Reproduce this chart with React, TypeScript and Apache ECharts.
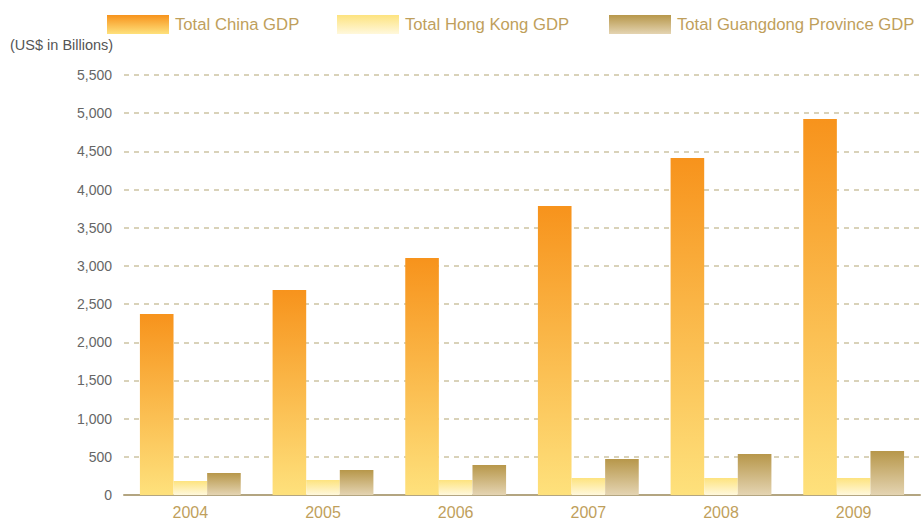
import React, { useEffect, useRef } from "react";
import * as echarts from "echarts";

const years = ["2004", "2005", "2006", "2007", "2008", "2009"];
const chinaGDP = [2370, 2685, 3104, 3785, 4413, 4924];
const hongKongGDP = [183, 196, 196, 223, 223, 223];
const guangdongGDP = [288, 327, 393, 471, 537, 576];
const yTicks = { min: 0, max: 5500, interval: 500 };

const grad = (top: string, bottom: string) =>
  new echarts.graphic.LinearGradient(0, 0, 0, 1, [
    { offset: 0, color: top },
    { offset: 1, color: bottom },
  ]);

const FONT = "'Liberation Sans', Arial, Helvetica, sans-serif";
const GOLD = "#bf9f5c";

export default function App() {
  const ref = useRef<HTMLDivElement>(null);
  useEffect(() => {
    if (!ref.current) return;
    const chart = echarts.init(ref.current, undefined, { renderer: "svg" });
    const legendBase = {
      top: 10,
      itemWidth: 62,
      itemHeight: 19,
      itemGap: 0,
      icon: "rect",
      textStyle: { color: GOLD, fontSize: 16.7, fontFamily: FONT, padding: [0, 0, 0, 1] },
    };
    chart.setOption({
      animation: false,
      textStyle: { fontFamily: FONT },
      legend: [
        { ...legendBase, left: 102, data: ["Total China GDP"] },
        { ...legendBase, left: 332, data: ["Total Hong Kong GDP"] },
        { ...legendBase, left: 604, data: ["Total Guangdong Province GDP"] },
      ],
      graphic: [
        {
          type: "text",
          left: 10,
          top: 37,
          style: { text: "(US$ in Billions)", fill: "#555", fontSize: 14.5, fontFamily: FONT },
        },
      ],
      grid: { left: 124, right: 2, top: 75, bottom: 25, containLabel: false },
      xAxis: {
        type: "category",
        data: years,
        axisLine: { lineStyle: { color: "#b3a581", width: 2 } },
        axisTick: { show: false },
        axisLabel: { color: GOLD, fontSize: 16, margin: 9, fontFamily: FONT },
      },
      yAxis: {
        type: "value",
        min: yTicks.min,
        max: yTicks.max,
        interval: yTicks.interval,
        axisLine: { show: false },
        axisTick: { show: false },
        axisLabel: {
          color: "#666",
          fontSize: 14,
          margin: 12,
          fontFamily: FONT,
          formatter: (v: number) => v.toLocaleString("en-US"),
        },
        splitLine: { lineStyle: { color: "#cdc3a3", type: [5, 5], width: 1.5 } },
      },
      series: [
        {
          name: "Total China GDP",
          type: "bar",
          data: chinaGDP,
          barGap: "0%",
          barCategoryGap: "24%",
          itemStyle: { color: grad("#f7931c", "#fee17c") },
        },
        {
          name: "Total Hong Kong GDP",
          type: "bar",
          data: hongKongGDP,
          barGap: "0%",
          barCategoryGap: "24%",
          itemStyle: { color: grad("#fde37f", "#fff8dc") },
        },
        {
          name: "Total Guangdong Province GDP",
          type: "bar",
          data: guangdongGDP,
          barGap: "0%",
          barCategoryGap: "24%",
          itemStyle: { color: grad("#b7974a", "#e4d4b2") },
        },
      ],
    });
    return () => chart.dispose();
  }, []);
  return <div ref={ref} style={{ width: 922, height: 520, position: "absolute", left: 0, top: 0 }} />;
}
